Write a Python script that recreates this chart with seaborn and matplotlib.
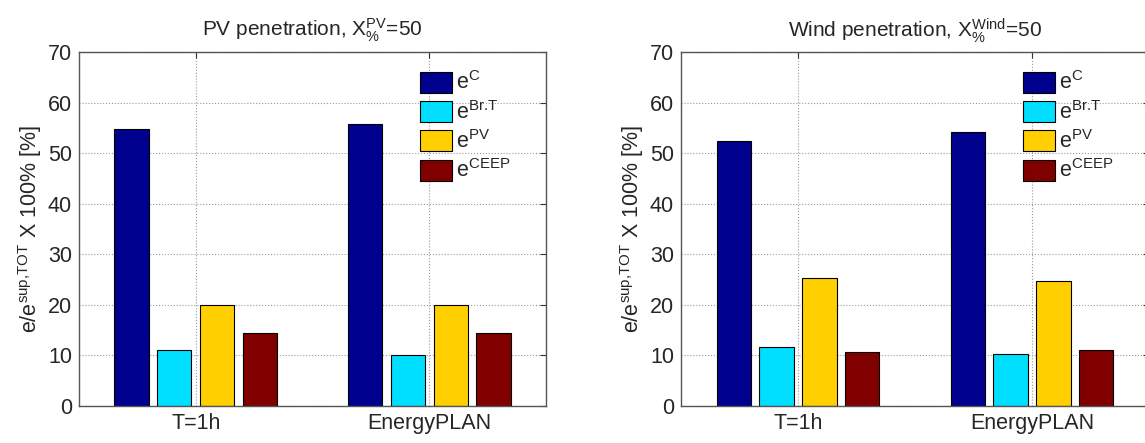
import pandas as pd
import matplotlib
matplotlib.use("Agg")
import matplotlib.pyplot as plt
from matplotlib.patches import Patch
import seaborn as sns

# values (%)
cases = ["T=1h", "EnergyPLAN"]
components = ["C", "Br.\\!T", "PV", "CEEP"]
colors = ["#00008F", "#00DFFF", "#FFCF00", "#800000"]

pv_eC = [54.8, 55.8]
pv_eBrT = [11.1, 10.1]
pv_ePV = [19.9, 19.9]
pv_eCEEP = [14.5, 14.5]

wind_eC = [52.5, 54.1]
wind_eBrT = [11.6, 10.2]
wind_ePV = [25.4, 24.7]
wind_eCEEP = [10.6, 11.1]

sns.set_style("white")
plt.rcParams["font.family"] = ["Liberation Sans", "DejaVu Sans"]
plt.rcParams["mathtext.fontset"] = "custom"
plt.rcParams["mathtext.rm"] = "Liberation Sans"
plt.rcParams["mathtext.it"] = "Liberation Sans:italic"


def make_df(series):
    rows = []
    for comp, vals in zip(components, series):
        for case, v in zip(cases, vals):
            rows.append({"case": case, "comp": comp, "value": v})
    return pd.DataFrame(rows)


pv_df = make_df([pv_eC, pv_eBrT, pv_ePV, pv_eCEEP])
wind_df = make_df([wind_eC, wind_eBrT, wind_ePV, wind_eCEEP])

fig = plt.figure(figsize=(11.45, 4.43), dpi=100)
ax1 = fig.add_axes([79 / 1145, 37 / 443, 467 / 1145, 354 / 443])
# right panel is cut off at the image edge, like the original
ax2 = fig.add_axes([681 / 1145, 37 / 443, 468 / 1145, 354 / 443])

panels = [
    (ax1, pv_df, r"PV penetration, X$^{\mathrm{PV}}_{\%}$=50"),
    (ax2, wind_df, r"Wind penetration, X$^{\mathrm{Wind}}_{\%}$=50"),
]

for ax, df, title in panels:
    sns.barplot(data=df, x="case", y="value", hue="comp", order=cases,
                hue_order=components, palette=colors, saturation=1,
                width=0.733, gap=0.2, edgecolor="black", linewidth=0.8,
                errorbar=None, legend=False, ax=ax)
    ax.set_xlim(-0.5, 1.5)
    ax.set_ylim(0, 70)
    ax.set_yticks(range(0, 71, 10))
    ax.set_xlabel("")
    ax.set_ylabel(r"e/e$^{\mathrm{sup{,}TOT}}$ X 100% [%]", fontsize=15.5, labelpad=3)
    ax.set_title(title, fontsize=15, pad=11)
    ax.grid(True, linestyle=":", color="#9a9a9a", linewidth=0.8)
    ax.set_axisbelow(True)
    ax.tick_params(direction="in", length=4, top=True, right=True,
                   labelsize=15.5, color="#333333", pad=5)
    for s in ax.spines.values():
        s.set_color("#555555")
        s.set_linewidth(1.0)
    handles = [Patch(facecolor=c, edgecolor="black", linewidth=0.8) for c in colors]
    labels = [r"e$^{\mathrm{%s}}$" % c for c in components]
    ax.legend(handles, labels, loc="upper left", bbox_to_anchor=(0.730, 0.945),
              frameon=False, fontsize=15.5, handlelength=1.49, handleheight=1.12,
              labelspacing=0.3, handletextpad=0.2, borderpad=0, borderaxespad=0)

fig.savefig("out.png", dpi=100)
